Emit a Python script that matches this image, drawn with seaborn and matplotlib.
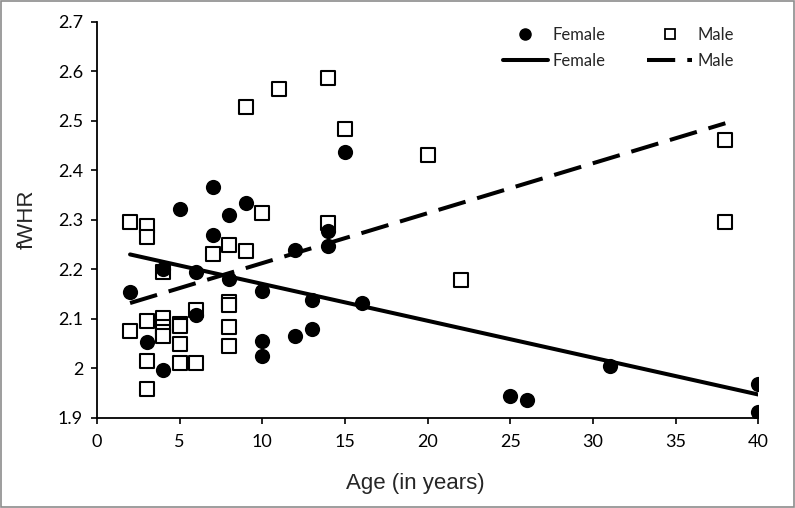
import pandas as pd
import seaborn as sns
import matplotlib.pyplot as plt
from matplotlib.patches import Rectangle
from matplotlib.lines import Line2D

# female measurements (age, fWHR)
female_age = [2, 3, 4, 4, 5, 6, 6, 7, 7, 8, 8, 9, 10, 10, 10, 12, 12, 13, 13,
              14, 14, 15, 16, 25, 26, 31, 40, 40]
female_fwhr = [2.153, 2.052, 1.996, 2.200, 2.321, 2.195, 2.108, 2.366, 2.269,
               2.310, 2.180, 2.333, 2.155, 2.055, 2.025, 2.239, 2.064, 2.138,
               2.079, 2.278, 2.246, 2.437, 2.131, 1.944, 1.936, 2.005, 1.968,
               1.911]

# male measurements (age, fWHR)
male_age = [2, 2, 3, 3, 3, 3, 3, 4, 4, 4, 4, 4, 5, 5, 5, 5, 6, 6, 7, 8, 8, 8,
            8, 8, 9, 9, 10, 11, 14, 14, 15, 20, 22, 38, 38]
male_fwhr = [2.296, 2.075, 2.288, 2.265, 2.096, 2.015, 1.957, 2.195, 2.101,
             2.083, 2.072, 2.064, 2.090, 2.086, 2.049, 2.011, 2.118, 2.010,
             2.230, 2.248, 2.133, 2.128, 2.084, 2.044, 2.236, 2.527, 2.313,
             2.564, 2.586, 2.294, 2.483, 2.431, 2.178, 2.461, 2.296]

female = pd.DataFrame({'Age': female_age, 'fWHR': female_fwhr})
male = pd.DataFrame({'Age': male_age, 'fWHR': male_fwhr})

sns.set_style('ticks')
plt.rcParams['font.family'] = ['Lato', 'DejaVu Sans']

fig = plt.figure(figsize=(7.95, 5.08), dpi=100)
ax = fig.add_axes([0.122, 0.178, 0.832, 0.779])

# scatter points
sns.scatterplot(data=male, x='Age', y='fWHR', marker='s', s=100,
                facecolor='white', edgecolor='black', linewidth=1.5,
                ax=ax, zorder=2)
sns.scatterplot(data=female, x='Age', y='fWHR', marker='o', s=120,
                color='black', edgecolor='black', linewidth=0,
                ax=ax, zorder=3)

# linear trend lines
sns.regplot(data=female, x='Age', y='fWHR', scatter=False, ci=None,
            truncate=True, color='black', line_kws={'lw': 2.9, 'zorder': 4},
            ax=ax)
sns.regplot(data=male, x='Age', y='fWHR', scatter=False, ci=None,
            truncate=True, color='black',
            line_kws={'lw': 2.9, 'dashes': (7, 3), 'zorder': 4}, ax=ax)

ax.set_xlim(0, 40)
ax.set_ylim(1.9, 2.7)
ax.set_xticks(range(0, 41, 5))
ax.set_yticks([1.9, 2.0, 2.1, 2.2, 2.3, 2.4, 2.5, 2.6, 2.7])
ax.set_yticklabels(['1.9', '2', '2.1', '2.2', '2.3', '2.4', '2.5', '2.6', '2.7'])
ax.tick_params(axis='both', direction='out', length=4, width=1.2,
               labelsize=13, colors='black')
ax.tick_params(axis='y', pad=6)
ax.tick_params(axis='x', pad=8)
sns.despine(ax=ax)
for side in ['left', 'bottom']:
    ax.spines[side].set_linewidth(1.3)
    ax.spines[side].set_color('black')

ax.set_xlabel('Age (in years)', fontsize=16, family='Liberation Sans')
ax.set_ylabel('fWHR', fontsize=16, family='Liberation Sans')
ax.xaxis.set_label_coords(0.481, -0.14)
ax.yaxis.set_label_coords(-0.089, 0.5)

# legend
handles = [
    Line2D([], [], marker='o', color='black', ls='none', markersize=8),
    Line2D([], [], color='black', lw=2.9),
    Line2D([], [], marker='s', markerfacecolor='white', markeredgecolor='black',
           markeredgewidth=1.3, ls='none', markersize=7.5),
    Line2D([], [], color='black', lw=2.9, dashes=(7, 3)),
]
labels = ['Female', 'Female', 'Male', 'Male']
ax.legend(handles, labels, ncol=2, frameon=False, fontsize=12,
          loc='upper right', bbox_to_anchor=(742 / 795, 1 - 19 / 508),
          bbox_transform=fig.transFigure, borderpad=0, handlelength=2.7,
          handletextpad=0.3, columnspacing=2.5, labelspacing=0.6)

# outer frame
fig.patches.append(Rectangle((0.001, 0.001), 0.998, 0.997,
                             transform=fig.transFigure, fill=False,
                             edgecolor='#8c8c8c', lw=1.2))

plt.savefig('out.png', dpi=100)
